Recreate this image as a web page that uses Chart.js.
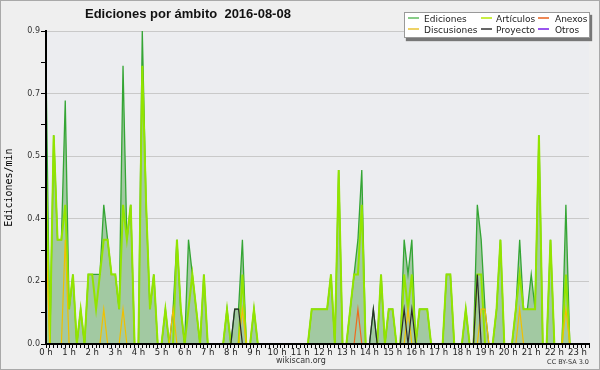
<!DOCTYPE html>
<html lang="es">
<head>
<meta charset="UTF-8" />
<title>Ediciones por ámbito 2016-08-08</title>
<script src="https://cdn.jsdelivr.net/npm/chart.js"></script>
<style>
  body { margin: 0; background: #fff; }
  #wrap { position: relative; width: 600px; height: 370px; background: #efefef; overflow: hidden;
          font-family: "DejaVu Sans", sans-serif; color: #222; }
  #chart { position: absolute; left: 0; top: 0; }
  #frame { position: absolute; left: 0; top: 0; width: 600px; height: 370px; box-sizing: border-box;
           border: 1px solid #a9a9a9; pointer-events: none; }
  .title { position: absolute; left: 85px; top: 6px; font: bold 13px/15px "Liberation Sans", Arial, sans-serif;
           white-space: pre; color: #111; }
  .legend-box { position: absolute; left: 404px; top: 12px; width: 186px; height: 26px; box-sizing: border-box;
                background: #fff; border: 1px solid #999; box-shadow: 2px 3px 1px #777; }
  .lg { position: absolute; font-size: 9px; line-height: 10px; white-space: nowrap; color: #222; }
  .sw { position: absolute; width: 11px; height: 2px; }
  .foot { position: absolute; font-size: 8px; line-height: 10px; color: #333; white-space: nowrap; }
</style>
</head>
<body>
<div id="wrap">
  <canvas id="chart" width="600" height="370"></canvas>
  <div class="title">Ediciones por ámbito  2016-08-08</div>

  <div class="legend-box"></div>
  <i class="sw" style="left:408px;top:17px;background:#88cc88"></i><span class="lg" style="left:424px;top:14px">Ediciones</span>
  <i class="sw" style="left:481px;top:17px;background:#c8ee44"></i><span class="lg" style="left:496px;top:14px">Artículos</span>
  <i class="sw" style="left:538px;top:17px;background:#ee8855"></i><span class="lg" style="left:555px;top:14px">Anexos</span>
  <i class="sw" style="left:408px;top:28px;background:#eed266"></i><span class="lg" style="left:424px;top:25px">Discusiones</span>
  <i class="sw" style="left:481px;top:28px;background:#666666"></i><span class="lg" style="left:496px;top:25px">Proyecto</span>
  <i class="sw" style="left:538px;top:28px;background:#9955ee"></i><span class="lg" style="left:555px;top:25px">Otros</span>

  <div class="foot" style="left:276px;top:356px">wikiscan.org</div>
  <div class="foot" style="right:11px;top:357px;font-size:6.5px">CC BY-SA 3.0</div>
  <div id="frame"></div>
</div>

<script>
  // edits per minute, one value per 10-minute slot (0:00 ... 23:30)
  const ediciones = [
    0.8, 0, 0.6, 0.3, 0.3, 0.7, 0.1, 0.2, 0, 0.1, 0, 0.2,       // 0h-2h
    0.2, 0.2, 0.2, 0.4, 0.3, 0.2, 0.2, 0.1, 0.8, 0.3, 0.4, 0,   // 2h-4h
    0, 0.9, 0.4, 0.1, 0.2, 0, 0, 0.1, 0, 0.1, 0.3, 0.1,         // 4h-6h
    0, 0.3, 0.2, 0.1, 0, 0.2, 0, 0, 0, 0, 0, 0.1,               // 6h-8h
    0, 0.1, 0.1, 0.3, 0, 0, 0.1, 0, 0, 0, 0, 0,                 // 8h-10h
    0, 0, 0, 0, 0, 0, 0, 0, 0, 0.1, 0.1, 0.1,                   // 10h-12h
    0.1, 0.1, 0.2, 0, 0.5, 0, 0, 0.1, 0.2, 0.3, 0.5, 0,         // 12h-14h
    0, 0.1, 0, 0.2, 0, 0.1, 0.1, 0, 0, 0.3, 0.2, 0.3,           // 14h-16h
    0, 0.1, 0.1, 0.1, 0, 0, 0, 0, 0.2, 0.2, 0, 0,               // 16h-18h
    0, 0.1, 0, 0, 0.4, 0.3, 0.1, 0, 0, 0.1, 0.3, 0,             // 18h-20h
    0, 0, 0.1, 0.3, 0.1, 0.1, 0.2, 0.1, 0.6, 0, 0, 0.3,         // 20h-22h
    0, 0, 0, 0.4, 0, 0, 0, 0, 0, 0                              // 22h-23h30
  ];
  const articulos = [
    0.5, 0, 0.6, 0.3, 0.3, 0.4, 0.1, 0.2, 0, 0.1, 0, 0.2,
    0.2, 0.1, 0.2, 0.3, 0.3, 0.2, 0.2, 0.1, 0.4, 0.3, 0.4, 0,
    0, 0.8, 0.4, 0.1, 0.2, 0, 0, 0.1, 0, 0, 0.3, 0.1,
    0, 0.1, 0.2, 0.1, 0, 0.2, 0, 0, 0, 0, 0, 0.1,
    0, 0, 0, 0.2, 0, 0, 0.1, 0, 0, 0, 0, 0,
    0, 0, 0, 0, 0, 0, 0, 0, 0, 0.1, 0.1, 0.1,
    0.1, 0.1, 0.2, 0, 0.5, 0, 0, 0.1, 0.2, 0.2, 0.4, 0,
    0, 0, 0, 0.2, 0, 0.1, 0.1, 0, 0, 0.2, 0.1, 0.2,
    0, 0.1, 0.1, 0.1, 0, 0, 0, 0, 0.2, 0.2, 0, 0,
    0, 0.1, 0, 0, 0.2, 0.2, 0, 0, 0, 0.1, 0.3, 0,
    0, 0, 0.1, 0.2, 0.1, 0.1, 0.1, 0.1, 0.6, 0, 0, 0.3,
    0, 0, 0, 0.2, 0, 0, 0, 0, 0, 0
  ];
  // sparse series: slot index and value
  const discusionesSlot = [0, 5, 15, 20, 33, 51, 94, 113, 114, 123, 135];
  const discusionesVal  = [0.3, 0.3, 0.1, 0.1, 0.1, 0.1, 0.1, 0.1, 0.1, 0.1, 0.1];
  const proyectoSlot = [49, 50, 85, 93, 95, 112];
  const proyectoVal  = [0.1, 0.1, 0.1, 0.1, 0.1, 0.2];
  const anexosSlot = [81];
  const anexosVal  = [0.1];

  const yMax = 0.9;          // top of the value axis
  const yStep = 0.09;        // minor tick step (labels on every 2nd)
  const slotsPerHour = 6;

  function fromSlots(slots, vals) {
    const a = ediciones.map(() => 0);
    slots.forEach((s, k) => { a[s] = vals[k]; });
    return a;
  }
  const toPoints = arr => arr.map((v, i) => ({ x: i, y: v }));

  const plotBg = {
    id: 'plotBg',
    beforeDraw(chart) {
      const { ctx, chartArea: a } = chart;
      ctx.save();
      ctx.fillStyle = '#ecedf0';
      ctx.fillRect(a.left, a.top, a.right - a.left, a.bottom - a.top);
      ctx.restore();
    }
  };

  Chart.defaults.font.family = '"DejaVu Sans", sans-serif';
  Chart.defaults.color = '#222';

  const line = (data, color, width, order, extra) => Object.assign({
    data: toPoints(data), borderColor: color, borderWidth: width, pointRadius: 0,
    tension: 0, fill: false, order: order
  }, extra || {});

  new Chart(document.getElementById('chart'), {
    type: 'line',
    data: {
      datasets: [
        line(ediciones, '#34a534', 1.3, 5, { fill: 'origin', backgroundColor: '#a2c9a2' }),
        line(articulos, '#92e400', 2, 4),
        line(fromSlots(discusionesSlot, discusionesVal), '#f0c000', 1.2, 3),
        line(fromSlots(proyectoSlot, proyectoVal), '#2b2b2b', 1.2, 2),
        line(fromSlots(anexosSlot, anexosVal), '#ee6a1e', 1.2, 1)
      ]
    },
    options: {
      responsive: false,
      animation: false,
      devicePixelRatio: 1,
      layout: { padding: { top: 31, right: 11, bottom: 0, left: 0 } },
      plugins: { legend: { display: false }, tooltip: { enabled: false } },
      scales: {
        x: {
          type: 'linear',
          min: 0,
          max: ediciones.length - 1,
          afterFit: s => { s.height = 26; },
          afterBuildTicks: s => { s.ticks = ediciones.map((_, i) => ({ value: i })); },
          grid: { drawOnChartArea: false, tickLength: 4, tickColor: '#000' },
          border: { color: '#000', width: 2, z: 1 },
          ticks: {
            autoSkip: false, maxRotation: 0, minRotation: 0, padding: 0,
            font: { size: 8.5 }, color: '#222',
            callback: v => (v % slotsPerHour === 0 ? (v / slotsPerHour) + ' h' : '')
          }
        },
        y: {
          min: 0,
          max: yMax,
          afterFit: s => { s.width = 46; },
          afterBuildTicks: s => {
            const t = [];
            for (let k = 0; k * yStep <= yMax + 1e-9; k++) t.push({ value: +(k * yStep).toFixed(2) });
            s.ticks = t;
          },
          grid: {
            color: c => (c.index % 2 === 0 && c.index > 0 ? '#c9c9c9' : 'rgba(0,0,0,0)'),
            tickColor: '#000', tickLength: 5
          },
          border: { color: '#000', width: 2, z: 1 },
          ticks: {
            padding: 1, font: { size: 8 }, color: '#333',
            callback: (v, i) => (i % 2 === 0 ? v.toFixed(1) : '')
          },
          title: {
            display: true, text: 'Ediciones/min', color: '#000',
            font: { family: '"DejaVu Sans Mono", monospace', size: 10 },
            padding: { top: 3, bottom: 0 }
          }
        }
      }
    },
    plugins: [plotBg]
  });
</script>
</body>
</html>
